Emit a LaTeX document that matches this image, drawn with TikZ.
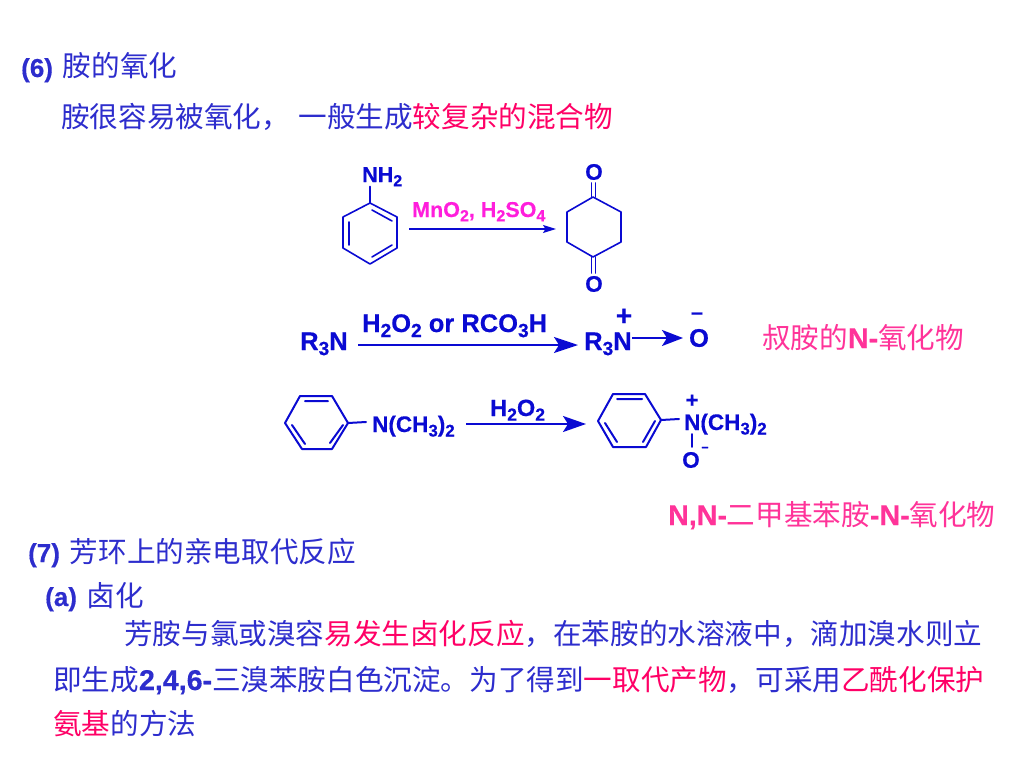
\documentclass[tikz,border=0pt]{standalone}
\usepackage{fontspec}
\setmainfont{Liberation Sans}[BoldFeatures={FakeBold=0.35}]
\newfontfamily\cjk{Noto Sans CJK SC}
\usetikzlibrary{arrows.meta}
\definecolor{chemblue}{RGB}{10,10,210}
\definecolor{textblue}{RGB}{45,45,205}
\definecolor{hot}{RGB}{255,0,102}
\definecolor{pinkish}{RGB}{255,51,153}
\definecolor{magent}{RGB}{255,30,220}
\newcommand\zh[1]{{\cjk\mdseries #1}}
\newcommand\dn[1]{\raisebox{-.2em}{\scalebox{.75}{#1}}}
\tikzset{
  line/.style={inner sep=0pt,anchor=base west,text=textblue,font=\fontsize{28.6}{32}\selectfont\bfseries},
  labelh/.style={line,font=\fontsize{26}{32}\selectfont\bfseries},
  chem/.style={inner sep=0pt,anchor=base west,text=chemblue,font=\fontsize{25.5}{28}\selectfont\bfseries},
  chemm/.style={chem,font=\fontsize{22.5}{24}\selectfont\bfseries},
  bond/.style={draw=chemblue,line width=1.6pt,line cap=round,line join=round},
  bondb/.style={bond,line width=2pt},
  arr/.style={draw=chemblue,line width=2pt,-{Stealth[length=24pt,width=16pt,inset=5pt]}},
  arrs/.style={draw=chemblue,line width=1.3pt,-{Stealth[length=13pt,width=8pt,inset=2.5pt]}}
}
\begin{document}
\begin{tikzpicture}[x=1pt,y=-1pt]
\path[use as bounding box,fill=white] (0,0) rectangle (1024,768);
% text lines
\node[labelh] (t1) at (21,77) {(6)\hspace{10pt}\fontsize{28.6}{32}\selectfont\zh{胺的氧化}};
\node[line] (t2) at (61,127) {\zh{胺很容易被氧化，\hspace{8.5pt}一般生成\textcolor{hot}{较复杂的混合物}}};
\node[line,text=pinkish] (t3) at (762,348) {\zh{叔胺的}N-\zh{氧化物}};
\node[line,text=pinkish] (t4) at (668,525) {N,N-\zh{二甲基苯胺}-N-\zh{氧化物}};
\node[labelh] (t5) at (28,562) {(7)\hspace{10pt}\fontsize{28.6}{32}\selectfont\zh{芳环上的亲电取代反应}};
\node[labelh] (t6) at (45,606) {(a)\hspace{10pt}\fontsize{28.6}{32}\selectfont\zh{卤化}};
\node[line] (t7) at (124,644) {\zh{芳胺与氯或溴容\textcolor{hot}{易发生卤化反应}，在苯胺的水溶液中，滴加溴水则立}};
\node[line] (t8) at (53,690) {\zh{即生成}2,4,6-\zh{三溴苯胺白色沉淀。为了得到\textcolor{hot}{一取代产物}，可采用\textcolor{hot}{乙酰化保护}}};
\node[line] (t9) at (53,734) {\textcolor{hot}{\zh{氨基}}\zh{的方法}};
% reaction 1
\foreach \n/\x/\y in {a1/370/203,a2/397/217,a3/397/248,a4/370/264,a5/343/248,a6/343/217}
  \coordinate (\n) at (\x,\y);
\draw[bond] (a1)--(a2)--(a3)--(a4)--(a5)--(a6)--cycle;
\draw[bond] (372,210)--(392,221) (392,245)--(372,257) (349,222)--(349,245);
\node[chemm] (nh2) at (362,182) {\fontsize{21.5}{24}\selectfont NH\dn{2}};
\draw[bond] (a1)--(nh2.south -| a1);
\node[chem,text=magent,font=\fontsize{21.5}{24}\selectfont\bfseries] (mno) at (412,217) {MnO\dn{2}, H\dn{2}SO\dn{4}};
\coordinate (s1) at (409,229); \coordinate (e1) at (556,229);
\draw[arrs] (s1)--(e1);
\foreach \n/\x/\y in {c1/593/197,c2/621/212,c3/621/242,c4/593/257,c5/567/242,c6/567/212}
  \coordinate (\n) at (\x,\y);
\draw[bond] (c1)--(c2)--(c3)--(c4)--(c5)--(c6)--cycle;
\node[chemm,anchor=center] (o1) at (594,172) {O};
\node[chemm,anchor=center] (o2) at (594,284) {O};
\draw[bond] (591.5,197)--(591.5,183) (595.5,197)--(595.5,183);
\draw[bond] (591.5,257)--(591.5,273) (595.5,257)--(595.5,273);
% reaction 2
\node[chem] (r1) at (300,350) {R\dn{3}N};
\node[chem] (rea) at (362,332) {H\dn{2}O\dn{2} or RCO\dn{3}H};
\coordinate (s2) at (358,345); \coordinate (e2) at (578,345);
\draw[arr] (s2)--(e2);
\node[chem] (r2) at (584,350) {R\dn{3}N};
\node[chem,anchor=center] (plus1) at (624,317) {\fontsize{28}{28}\selectfont +};
\node[chem,anchor=center] (oo) at (699,338) {O};
\node[chem,anchor=center] (minus1) at (697,316) {\fontsize{22}{24}\selectfont –};
\coordinate (s3) at (632,338); \coordinate (e3) at (683,338);
\draw[arr,-{Stealth[length=21pt,width=16pt,inset=5pt]}] (s3)--(e3);
% reaction 3
\foreach \n/\x/\y in {b1/285/423,b2/300/396,b3/332/396,b4/348/423,b5/332/449,b6/302/449}
  \coordinate (\n) at (\x,\y);
\draw[bondb] (b1)--(b2)--(b3)--(b4)--(b5)--(b6)--cycle;
\draw[bondb] (305,401)--(328,401) (343,425)--(330,443) (292,425)--(305,444);
\node[chemm] (n1) at (372,432) {N(CH\dn{3})\dn{2}};
\coordinate (n1b) at (366,422);
\draw[bondb] (b4)--(n1b);
\node[chem,font=\fontsize{23.5}{24}\selectfont\bfseries] (h2o2) at (490,416) {H\dn{2}O\dn{2}};
\coordinate (s4) at (466,424); \coordinate (e4) at (586,424);
\draw[arr,-{Stealth[length=23pt,width=16pt,inset=5pt]}] (s4)--(e4);
\foreach \n/\x/\y in {d1/598/421,d2/613/394,d3/645/394,d4/661/420,d5/646/447,d6/613/447}
  \coordinate (\n) at (\x,\y);
\draw[bondb] (d1)--(d2)--(d3)--(d4)--(d5)--(d6)--cycle;
\draw[bondb] (617,399)--(642,399) (655,421)--(643,442) (605,423)--(617,442);
\node[chemm] (n2) at (684,430) {N(CH\dn{3})\dn{2}};
\coordinate (n2b) at (679,419);
\draw[bondb] (d4)--(n2b);
\node[chem,anchor=center] (plus2) at (692,401) {\fontsize{22}{22}\selectfont +};
\node[chemm,anchor=center] (o3) at (691,460) {O};
\node[chemm,anchor=center] (minus2) at (705,449) {\fontsize{13}{20}\selectfont –};
\draw[bond] (692,434)--(692,447);
\end{tikzpicture}
\end{document}
